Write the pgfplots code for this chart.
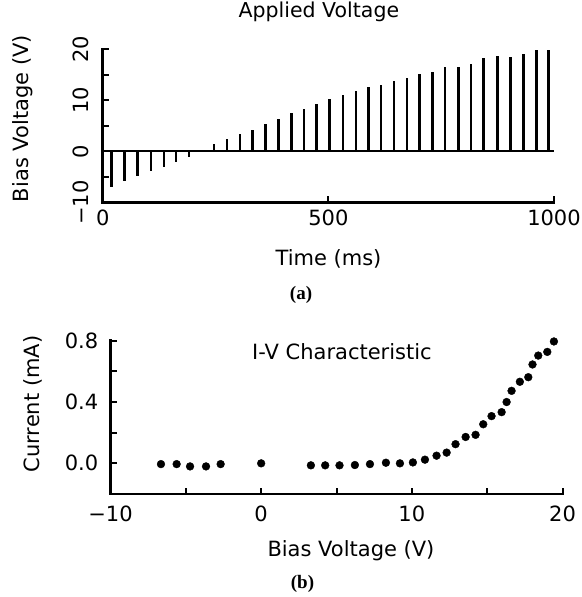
\documentclass[border=0pt]{standalone}
\usepackage{pgfplots}
\pgfplotsset{compat=1.18}
\usepackage{fontspec}
\setmainfont{DejaVu Sans}
\newfontfamily\capfont{Liberation Serif}
\begin{document}
\begin{tikzpicture}
\path[use as bounding box] (0,0) rectangle (582bp,597bp);
\pgfplotsset{
  myaxis/.style={
    scale only axis, axis x line=bottom, axis y line=left,
    axis line style={-, line width=2.5bp, line cap=rect},
    tick align=inside, major tick length=6bp,
    every tick/.style={black, line width=2bp},
    tick label style={font=\fontsize{21bp}{25bp}\selectfont},
    label style={font=\fontsize{21bp}{25bp}\selectfont},
    enlargelimits=false, clip=false,
  }
}
% ---------------- (a) Applied Voltage ----------------
\begin{axis}[myaxis, at={(102.7bp,394.5bp)}, anchor=south west,
  width=451.3bp, height=153.2bp,
  xmin=0, xmax=1000, ymin=-10, ymax=20,
  xtick={0,500,1000}, xticklabels={0,500,1000},
  ytick={-10,-5,0,5,10,15,20}, yticklabels={−10,,0,,10,,20},
  xticklabel style={anchor=center, yshift=-15.5bp},
  yticklabel style={anchor=center, xshift=-21.7bp, rotate=90},
  title={Applied Voltage},
  title style={at={(axis description cs:0.479,1.204)}, anchor=center, font=\fontsize{20.5bp}{24bp}\selectfont},
  xlabel={Time (ms)},
  xlabel style={at={(axis description cs:0.5003,-0.3655)}, anchor=center},
  ylabel={Bias Voltage (V)},
  ylabel style={at={(axis description cs:-0.1766,0.548)}, anchor=center},
]
\addplot[ycomb, black, line width=2.5bp, mark=none] coordinates {
(20,-6.9) (48,-5.8) (77.5,-4.9) (107,-3.9) (136,-3.0) (162.5,-2.0) (191,-1.0)
(247,1.45) (275,2.44) (304,3.43) (332,4.22) (361,5.40) (390,6.31) (418,7.43)
(446,8.29) (474,9.34) (503,10.26) (532,11.05) (561,11.9) (589,12.6) (617,13.1)
(645,13.7) (674,14.4) (702,15.1) (731,15.6) (759,16.5) (788,16.5) (816,17.2)
(844,18.2) (875,18.7) (904,18.5) (932,19.1) (961,19.9) (988,19.8)
};
\addplot[black, line width=2bp, mark=none] coordinates {(0,0) (1000,0)};
\node[font=\capfont\bfseries\fontsize{19bp}{23bp}\selectfont] at (axis description cs:0.4394,-0.6005) {(a)};
\end{axis}
% ---------------- (b) I-V Characteristic ----------------
\begin{axis}[myaxis, at={(110.5bp,103bp)}, anchor=south west,
  width=452bp, height=153.3bp,
  xmin=-10, xmax=20, ymin=-0.2, ymax=0.8,
  xtick={-10,-5,0,5,10,15,20}, xticklabels={−10,,0,,10,,20},
  ytick={0,0.2,0.4,0.6,0.8}, yticklabels={0.0,,0.4,,0.8},
  xticklabel style={anchor=center, yshift=-19.5bp},
  yticklabel style={anchor=center, xshift=-29bp},
  xlabel={Bias Voltage (V)},
  xlabel style={at={(axis description cs:0.532,-0.372)}, anchor=center},
  ylabel={Current (mA)},
  ylabel style={at={(axis description cs:-0.1715,0.587)}, anchor=center},
]
\addplot[only marks, mark=*, mark size=3.9bp, black] coordinates {
(-6.65,-0.005) (-5.61,-0.005) (-4.72,-0.02) (-3.66,-0.02) (-2.69,-0.005)
(0,0.0)
(3.3,-0.013) (4.25,-0.013) (5.2,-0.013) (6.22,-0.011) (7.22,-0.005)
(8.28,0.004) (9.21,0.0) (10.07,0.006) (10.87,0.024) (11.64,0.05)
(12.31,0.07) (12.9,0.125) (13.57,0.172) (14.23,0.186) (14.74,0.255)
(15.29,0.308) (15.96,0.334) (16.29,0.40) (16.62,0.473) (17.17,0.532)
(17.73,0.562) (18.01,0.645) (18.39,0.703) (18.99,0.727) (19.43,0.795)
};
\node[font=\fontsize{21bp}{25bp}\selectfont] at (axis description cs:0.512,0.926) {I-V Characteristic};
\node[font=\capfont\bfseries\fontsize{19bp}{23bp}\selectfont] at (axis description cs:0.4248,-0.587) {(b)};
\end{axis}
\end{tikzpicture}
\end{document}
